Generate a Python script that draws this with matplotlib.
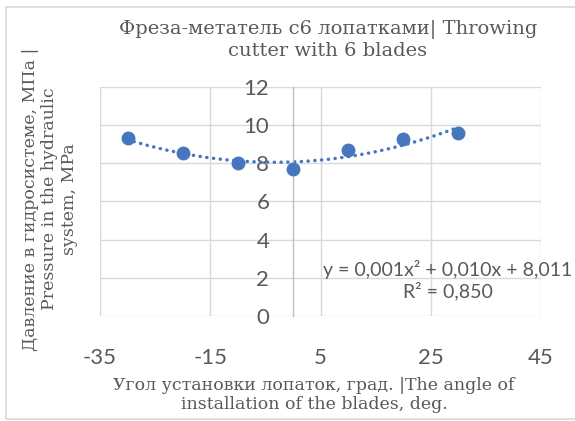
import numpy as np
import matplotlib
matplotlib.use("Agg")
import matplotlib.pyplot as plt
from matplotlib.patches import Rectangle

# Blade installation angle, deg, and hydraulic pressure, MPa
angles = [-30, -20, -10, 0, 10, 20, 30]
pressure = [9.33, 8.51, 8.0, 7.67, 8.69, 9.28, 9.6]

x_ticks = [-35, -15, 5, 25, 45]
y_ticks = [0, 2, 4, 6, 8, 10, 12]

title = "Фреза-метатель с6 лопатками| Throwing\ncutter with 6 blades"
x_title = "Угол установки лопаток, град. |The angle of\ninstallation of the blades, deg."
y_title = "Давление в гидросистеме, МПа |\nPressure in the hydraulic\nsystem, MPa"
trend_label = "y = 0,001x² + 0,010x + 8,011\nR² = 0,850"

BLUE = "#4677BE"
TEXT = "#595959"
GRID = "#D9D9D9"
SERIF = ["DejaVu Serif"]
SANS = ["Lato", "DejaVu Sans"]

plt.rcParams["axes.unicode_minus"] = False

fig = plt.figure(figsize=(5.75, 4.21), dpi=100)
ax = fig.add_axes([100 / 575, 1 - 316 / 421, 441 / 575, 229.3 / 421])

# chart frame, open on the right where the image is cut
fig.patches.append(Rectangle((6 / 575, 2 / 421), 1.2, 412 / 421,
                             transform=fig.transFigure, fill=False,
                             edgecolor=GRID, linewidth=1.2))

ax.set_xlim(-35, 45)
ax.set_ylim(0, 12)
ax.set_xticks(x_ticks)
ax.set_yticks(y_ticks)
ax.grid(True, color=GRID, linewidth=1.0)
ax.set_axisbelow(True)

for side in ["top", "right", "bottom"]:
    ax.spines[side].set_visible(False)
ax.spines["left"].set_position(("data", 0))
ax.spines["left"].set_color("#BFBFBF")
ax.spines["left"].set_linewidth(1.0)

ax.tick_params(axis="y", length=0, pad=17, labelsize=16, labelcolor=TEXT)
ax.tick_params(axis="x", length=0, pad=23, labelsize=16, labelcolor=TEXT)
for lab in ax.get_xticklabels() + ax.get_yticklabels():
    lab.set_family(SANS)

# quadratic trend over the data range
coef = np.polyfit(angles, pressure, 2)
xs = np.linspace(min(angles), max(angles), 200)
ax.plot(xs, np.polyval(coef, xs), color=BLUE, linewidth=2.5,
        linestyle=(0, (0.05, 1.9)), dash_capstyle="round", zorder=2)
ax.plot(angles, pressure, "o", color=BLUE, markersize=9, zorder=3)

ax.text(0.788, 0.157, trend_label, transform=ax.transAxes, ha="center",
        va="center", fontsize=14, color=TEXT, family=SANS, linespacing=1.2)

fig.text(328 / 575, 1 - 40 / 421, title, ha="center", va="center",
         fontsize=14, color=TEXT, family=SERIF, linespacing=1.2)

ax.set_xlabel(x_title, fontsize=12.5, color=TEXT, family=SERIF,
              linespacing=1.1, va="center")
ax.xaxis.set_label_coords((314 - 100) / 441, -(395 - 316) / 229.3)
ax.set_ylabel(y_title, fontsize=12.5, color=TEXT, family=SERIF,
              linespacing=1.2, va="center")
ax.yaxis.set_label_coords((50 - 100) / 441, (316 - 199) / 229.3)

fig.savefig("out.png", dpi=100)
